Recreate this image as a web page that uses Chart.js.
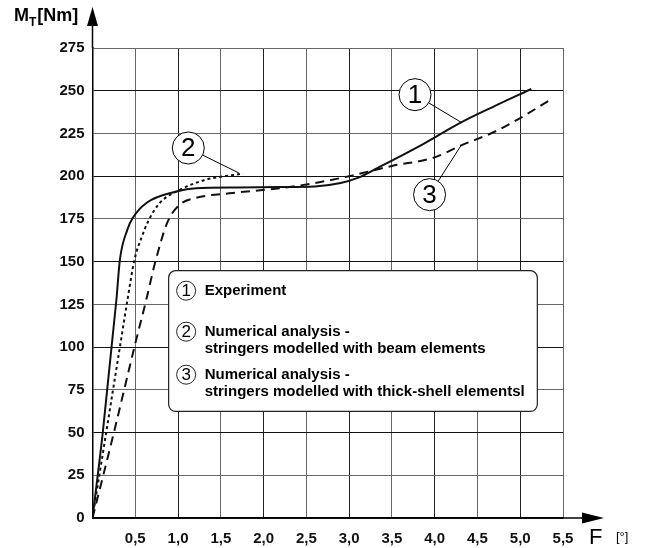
<!DOCTYPE html>
<html>
<head>
<meta charset="utf-8">
<script src="https://cdn.jsdelivr.net/npm/chart.js@4/dist/chart.umd.min.js"></script>
<style>
html,body{margin:0;padding:0;background:#fff;}
#wrap{width:645px;height:548px;}
</style>
</head>
<body>
<div id="wrap"><canvas id="c" width="645" height="548"></canvas></div>
<script>
// curve 1 - experiment (solid)
const expX = [0, 0.12, 0.28, 0.32, 0.41, 0.47, 0.63, 0.98, 1.21, 1.7, 2.18, 2.6, 2.9, 3.1, 3.34, 3.8, 4.31, 4.7, 5.13];
const expY = [0, 50, 128, 151, 169, 175.5, 184.3, 191, 193, 193.4, 193.7, 194, 196, 199, 205, 217, 231.5, 241, 251];
// curve 2 - beam elements (dotted)
const beamX = [0, 0.16, 0.32, 0.41, 0.49, 0.58, 0.65, 0.78, 1.02, 1.33, 1.76];
const beamY = [0, 50, 100, 128, 151, 165, 173.5, 184, 192, 198, 201.5];
// curve 3 - thick-shell elements (dashed)
const shellX = [0, 0.25, 0.49, 0.63, 0.74, 0.88, 1.02, 1.21, 1.6, 2.2, 2.6, 3.0, 3.5, 4.0, 4.31, 4.7, 5.0, 5.36];
const shellY = [0, 50, 100, 128, 151, 173.5, 183.3, 187.3, 190, 193, 196, 200, 206, 211, 218, 226, 234, 245];

const yTickLabels = ['0', '25', '50', '75', '100', '125', '150', '175', '200', '225', '250', '275'];
const xTickLabels = ['', '0,5', '1,0', '1,5', '2,0', '2,5', '3,0', '3,5', '4,0', '4,5', '5,0', '5,5'];
const legendTexts = [
  ['Experiment'],
  ['Numerical analysis -', 'stringers modelled with beam elements'],
  ['Numerical analysis -', 'stringers modelled with thick-shell elementsl']
];
const callouts = [
  {n: '1', cx: 3.77, cy: 247.7, tx: 4.31, ty: 231.5},
  {n: '2', cx: 1.12, cy: 216.5, tx: 1.71, ty: 201.9},
  {n: '3', cx: 3.94, cy: 189.2, tx: 4.31, ty: 218.1}
];

const FONT = "'Liberation Sans', Arial, sans-serif";
const pts = (xs, ys) => xs.map((x, i) => ({x: x, y: ys[i]}));

const extras = {
  id: 'extras',
  afterDatasetsDraw(chart) {
    const ctx = chart.ctx, xs = chart.scales.x, ys = chart.scales.y, a = chart.chartArea;
    ctx.save();
    // axis arrows
    ctx.strokeStyle = '#000'; ctx.fillStyle = '#000'; ctx.lineWidth = 1.5;
    ctx.beginPath(); ctx.moveTo(a.left, a.top); ctx.lineTo(a.left, 24); ctx.stroke();
    ctx.beginPath(); ctx.moveTo(a.left, 7); ctx.lineTo(a.left - 5.5, 26); ctx.lineTo(a.left + 5.5, 26); ctx.closePath(); ctx.fill();
    ctx.beginPath(); ctx.moveTo(a.right, a.bottom); ctx.lineTo(584, a.bottom); ctx.stroke();
    ctx.beginPath(); ctx.moveTo(604, a.bottom); ctx.lineTo(582, a.bottom - 5.5); ctx.lineTo(582, a.bottom + 5.5); ctx.closePath(); ctx.fill();

    // axis titles
    ctx.textBaseline = 'alphabetic'; ctx.textAlign = 'left';
    ctx.font = 'bold 18px ' + FONT;
    ctx.fillText('M', 14, 21);
    let w = ctx.measureText('M').width;
    ctx.font = 'bold 12px ' + FONT;
    ctx.fillText('T', 14 + w, 26);
    let w2 = ctx.measureText('T').width;
    ctx.font = 'bold 18px ' + FONT;
    ctx.fillText('[Nm]', 14 + w + w2 + 1, 21);
    ctx.font = '22px ' + FONT;
    ctx.fillText('F', 589, 544);
    ctx.font = '13px ' + FONT;
    ctx.fillText('[°]', 616, 541);

    // callouts
    ctx.lineWidth = 1;
    callouts.forEach(c => {
      const cx = xs.getPixelForValue(c.cx), cy = ys.getPixelForValue(c.cy);
      const tx = xs.getPixelForValue(c.tx), ty = ys.getPixelForValue(c.ty);
      const r = 16, d = Math.hypot(tx - cx, ty - cy);
      ctx.beginPath();
      ctx.moveTo(cx + (tx - cx) / d * r, cy + (ty - cy) / d * r);
      ctx.lineTo(tx, ty); ctx.stroke();
      ctx.fillStyle = '#fff';
      ctx.beginPath(); ctx.arc(cx, cy, r, 0, Math.PI * 2); ctx.fill(); ctx.stroke();
      ctx.fillStyle = '#000';
      ctx.font = '26px ' + FONT; ctx.textAlign = 'center'; ctx.textBaseline = 'middle';
      ctx.fillText(c.n, cx, cy + 1);
    });

    // legend box
    const bl = xs.getPixelForValue(0.89), br = xs.getPixelForValue(5.2);
    const bt = ys.getPixelForValue(144.7), bb = ys.getPixelForValue(62.4);
    ctx.fillStyle = '#fff'; ctx.strokeStyle = '#222'; ctx.lineWidth = 1.2;
    ctx.beginPath(); ctx.roundRect(bl, bt, br - bl, bb - bt, 7); ctx.fill(); ctx.stroke();
    const rowY = [bt + 20, bt + 61, bt + 104];
    ctx.lineWidth = 1;
    legendTexts.forEach((lines, i) => {
      ctx.beginPath(); ctx.arc(bl + 17.5, rowY[i], 9.5, 0, Math.PI * 2); ctx.stroke();
      ctx.fillStyle = '#000';
      ctx.font = '17px ' + FONT; ctx.textAlign = 'center'; ctx.textBaseline = 'middle';
      ctx.fillText(String(i + 1), bl + 17.5, rowY[i] + 1);
      ctx.font = 'bold 15px ' + FONT; ctx.textAlign = 'left';
      lines.forEach((t, j) => ctx.fillText(t, bl + 36, rowY[i] + j * 17));
    });
    ctx.restore();
  }
};

new Chart(document.getElementById('c').getContext('2d'), {
  type: 'scatter',
  data: {
    datasets: [
      {label: 'Experiment', data: pts(expX, expY), showLine: true, borderColor: '#111', borderWidth: 2, pointRadius: 0, cubicInterpolationMode: 'monotone'},
      {label: 'beam', data: pts(beamX, beamY), showLine: true, borderColor: '#111', borderWidth: 2, borderDash: [3, 3], pointRadius: 0, cubicInterpolationMode: 'monotone'},
      {label: 'shell', data: pts(shellX, shellY), showLine: true, borderColor: '#111', borderWidth: 2, borderDash: [9, 6], pointRadius: 0, cubicInterpolationMode: 'monotone'}
    ]
  },
  options: {
    responsive: false,
    animation: false,
    layout: {padding: {left: 0, top: 48, right: 82, bottom: 0}},
    plugins: {legend: {display: false}, tooltip: {enabled: false}},
    scales: {
      x: {
        type: 'linear', min: 0, max: 5.5,
        afterFit(s) { s.height = 30; },
        ticks: {stepSize: 0.5, padding: 12, color: '#111', font: {family: FONT, size: 15, weight: 'bold'}, maxRotation: 0, autoSkip: false,
          callback: (v, i) => xTickLabels[i]},
        grid: {drawTicks: false, lineWidth: 1, color: c => (c.tick && c.tick.value % 1 === 0) ? '#222' : '#666'},
        border: {color: '#000', width: 1.5}
      },
      y: {
        type: 'linear', min: 0, max: 275,
        afterFit(s) { s.width = 92.5; },
        ticks: {stepSize: 25, padding: 8, color: '#111', font: {family: FONT, size: 15, weight: 'bold'},
          callback: (v, i) => yTickLabels[i]},
        grid: {drawTicks: false, lineWidth: 1, color: c => (c.tick && c.tick.value % 50 === 0) ? '#111' : '#666'},
        border: {color: '#000', width: 1.5}
      }
    }
  },
  plugins: [extras]
});
</script>
</body>
</html>
